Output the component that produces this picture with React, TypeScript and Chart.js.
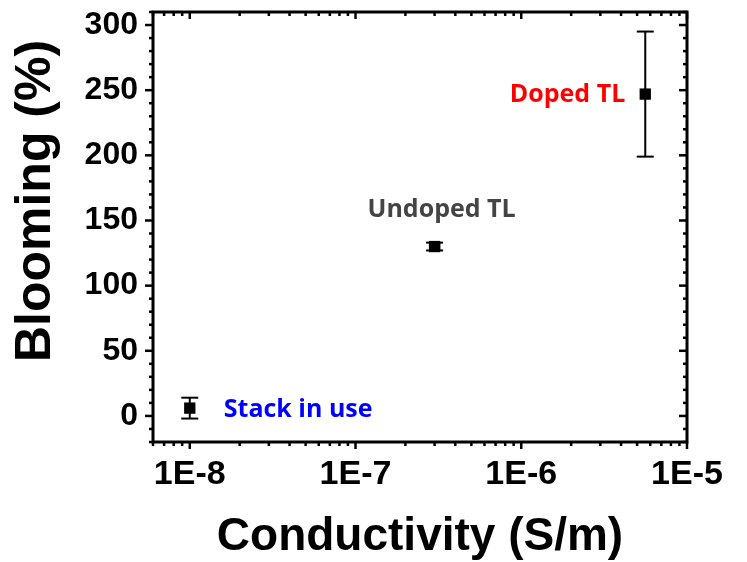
import React, { useEffect, useRef } from "react";
import { Chart, registerables } from "chart.js";

Chart.register(...registerables);

// ---- data ----
const xValues = [1e-8, 3e-7, 5.6e-6];
const yValues = [6, 130, 247];
const yErrors = [8, 3, 48];
const xErrorsLog = [0, 0.028, 0]; // error in decades
const pointLabels = ["Stack in use", "Undoped TL", "Doped TL"];
const labelColors = ["#0000ff", "#444444", "#ff0000"];
const xTickValues = [1e-8, 1e-7, 1e-6, 1e-5];
const xTickLabels = ["1E-8", "1E-7", "1E-6", "1E-5"];
const yTickValues = [0, 50, 100, 150, 200, 250, 300];
const xTitle = "Conductivity (S/m)";
const yTitle = "Blooming (%)";

const X_MIN = 6e-9;
const X_MAX = 1e-5;
const Y_MIN = -20;
const Y_MAX = 310;

function line(ctx: CanvasRenderingContext2D, x1: number, y1: number, x2: number, y2: number) {
  ctx.beginPath();
  ctx.moveTo(x1, y1);
  ctx.lineTo(x2, y2);
  ctx.stroke();
}

const errorBars = {
  id: "errorBars",
  beforeDatasetsDraw(chart: any) {
    const { ctx, scales } = chart;
    const xs = scales.x;
    const ys = scales.y;
    ctx.save();
    ctx.strokeStyle = "#000";
    ctx.lineWidth = 2;
    const cap = 8.5;
    xValues.forEach((xv, i) => {
      const px = xs.getPixelForValue(xv);
      const yTop = ys.getPixelForValue(yValues[i] + yErrors[i]);
      const yBot = ys.getPixelForValue(yValues[i] - yErrors[i]);
      const py = ys.getPixelForValue(yValues[i]);
      line(ctx, px, yTop, px, yBot);
      line(ctx, px - cap, yTop, px + cap, yTop);
      line(ctx, px - cap, yBot, px + cap, yBot);
      if (xErrorsLog[i] > 0) {
        const xl = xs.getPixelForValue(xv / Math.pow(10, xErrorsLog[i]));
        const xr = xs.getPixelForValue(xv * Math.pow(10, xErrorsLog[i]));
        line(ctx, xl, py, xr, py);
        line(ctx, xl, py - 4, xl, py + 4);
        line(ctx, xr, py - 4, xr, py + 4);
      }
    });
    ctx.restore();
  },
};

const decor = {
  id: "decor",
  afterDraw(chart: any) {
    const { ctx, chartArea, scales } = chart;
    const { left, right, top, bottom } = chartArea;
    const xs = scales.x;
    const ys = scales.y;
    ctx.save();
    ctx.strokeStyle = "#000";
    // y ticks
    ctx.lineWidth = 2.5;
    for (let v = -20; v <= Y_MAX; v += 10) {
      const py = ys.getPixelForValue(v);
      const major = v % 50 === 0;
      const len = major ? 8 : 4;
      line(ctx, left - len, py, left, py);
      line(ctx, right, py, right - len, py);
    }
    // x ticks
    for (let d = -9; d <= -5; d++) {
      for (let m = 1; m <= 9; m++) {
        const v = m * Math.pow(10, d);
        if (v < X_MIN * 0.999 || v > X_MAX * 1.001) continue;
        const px = xs.getPixelForValue(v);
        const major = m === 1;
        const len = major ? 7 : 4;
        line(ctx, px, bottom, px, bottom + len);
        line(ctx, px, top, px, top + len);
      }
    }
    // frame
    ctx.lineWidth = 3;
    ctx.strokeRect(left, top, right - left, bottom - top);

    // point labels
    ctx.font = "bold 25px 'Open Sans'";
    ctx.textBaseline = "middle";
    xValues.forEach((xv, i) => {
      const px = xs.getPixelForValue(xv);
      const py = ys.getPixelForValue(yValues[i]);
      ctx.fillStyle = labelColors[i];
      if (i === 0) {
        ctx.textAlign = "left";
        ctx.fillText(pointLabels[i], px + 34, py + 2);
      } else if (i === 1) {
        ctx.textAlign = "center";
        ctx.fillText(pointLabels[i], px + 7, py - 37);
      } else {
        ctx.textAlign = "right";
        ctx.fillText(pointLabels[i], px - 20, py + 1);
      }
    });

    // axis titles
    ctx.fillStyle = "#000";
    ctx.font = "bold 46px 'Liberation Sans', Arial, sans-serif";
    ctx.textAlign = "center";
    ctx.textBaseline = "middle";
    ctx.fillText(xTitle, (left + right) / 2, 537);
    ctx.save();
    ctx.translate(36, 201);
    ctx.rotate(-Math.PI / 2);
    ctx.font = "bold 50px 'Liberation Sans', Arial, sans-serif";
    ctx.fillText(yTitle, 0, 0);
    ctx.restore();
    ctx.restore();
  },
};

export default function App() {
  const ref = useRef<HTMLCanvasElement | null>(null);
  useEffect(() => {
    if (!ref.current) return;
    const chart = new Chart(ref.current, {
      type: "scatter",
      data: {
        datasets: [
          {
            data: xValues.map((x, i) => ({ x, y: yValues[i] })),
            pointStyle: "rect",
            pointRadius: 8,
            pointHoverRadius: 8,
            backgroundColor: "#000",
            borderColor: "#000",
            borderWidth: 0,
            showLine: false,
          },
        ],
      },
      options: {
        animation: false,
        responsive: true,
        maintainAspectRatio: false,
        layout: { padding: { top: 12, right: 60, left: 0, bottom: 0 } },
        plugins: {
          legend: { display: false },
          tooltip: { enabled: false },
        },
        scales: {
          x: {
            type: "logarithmic",
            min: X_MIN,
            max: X_MAX,
            grid: { display: false, drawTicks: false },
            border: { display: false },
            afterBuildTicks: (scale: any) => {
              scale.ticks = xTickValues.map((v) => ({ value: v, major: true }));
            },
            afterFit: (scale: any) => {
              scale.height = 120;
              scale.paddingLeft = 0;
              scale.paddingRight = 0;
            },
            ticks: {
              autoSkip: false,
              maxRotation: 0,
              color: "#000",
              padding: 12,
              font: { family: "'Liberation Sans', Arial, sans-serif", size: 34, weight: "bold" },
              callback: (value: any) => {
                const idx = xTickValues.findIndex((t) => Math.abs(t - Number(value)) / t < 1e-6);
                return idx >= 0 ? xTickLabels[idx] : "";
              },
            },
          },
          y: {
            type: "linear",
            min: Y_MIN,
            max: Y_MAX,
            grid: { display: false, drawTicks: false },
            border: { display: false },
            afterBuildTicks: (scale: any) => {
              scale.ticks = yTickValues.map((v) => ({ value: v }));
            },
            afterFit: (scale: any) => {
              scale.width = 153;
              scale.paddingTop = 0;
              scale.paddingBottom = 0;
            },
            ticks: {
              autoSkip: false,
              color: "#000",
              padding: 15,
              font: { family: "'Liberation Sans', Arial, sans-serif", size: 32, weight: "bold" },
            },
          },
        },
      },
      plugins: [errorBars, decor],
    });
    return () => chart.destroy();
  }, []);
  return (
    <div style={{ position: "absolute", left: 0, top: 0, width: 747, height: 562 }}>
      <canvas ref={ref} />
    </div>
  );
}
